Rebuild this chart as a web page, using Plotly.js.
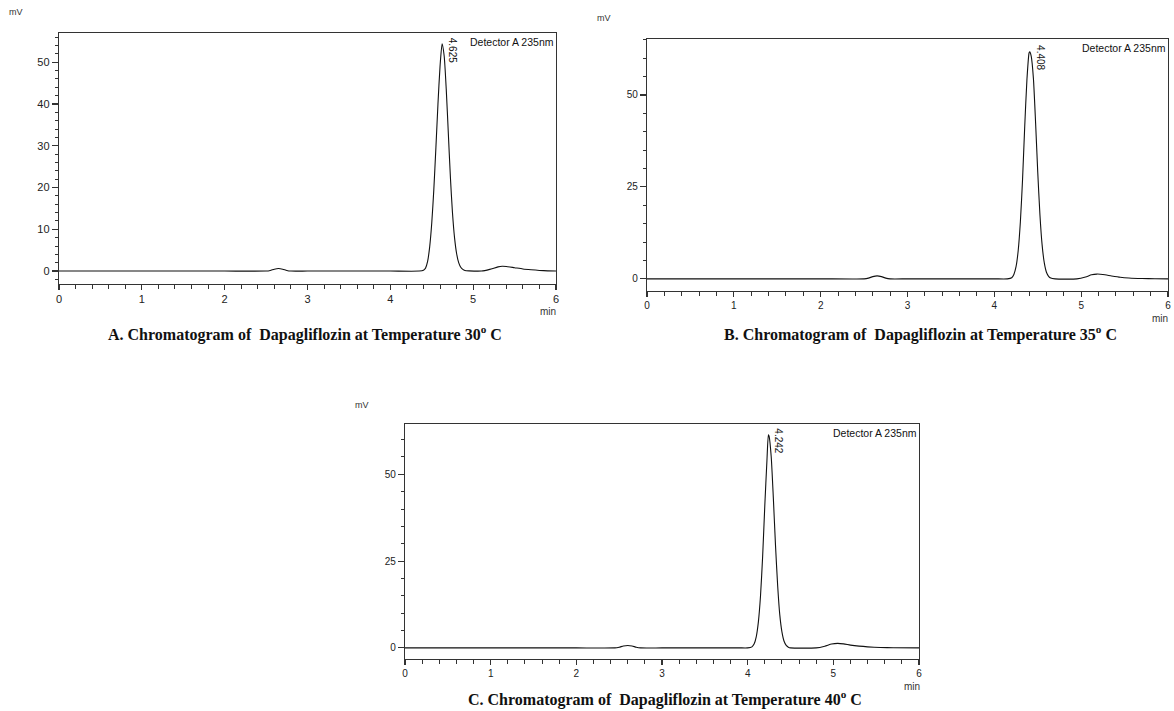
<!DOCTYPE html>
<html>
<head>
<meta charset="utf-8">
<script src="https://cdn.plot.ly/plotly-3.0.1.min.js"></script>
<style>html,body{margin:0;padding:0;background:#fff;}#chart{width:1174px;height:711px;}</style>
</head>
<body>
<div id="chart"></div>
<script>
// ---- Data (time in min, signal in mV) ----
const timeA = [0, 0.5, 1, 1.5, 2, 2.5, 2.55, 2.6, 2.65, 2.7, 2.75, 2.8, 3, 3.5, 4, 4.35, 4.4, 4.425, 4.45, 4.475, 4.5, 4.525, 4.55, 4.575, 4.6, 4.625, 4.65, 4.675, 4.7, 4.725, 4.75, 4.775, 4.8, 4.825, 4.85, 4.875, 4.9, 4.95, 5.1, 5.2, 5.3, 5.35, 5.4, 5.5, 5.6, 5.7, 5.8, 5.9, 6.0];
const signalA = [0, 0, 0, 0, 0, 0, 0.15, 0.45, 0.6, 0.45, 0.15, 0, 0, 0, 0, 0, 0.2, 0.7, 2.3, 5.8, 11.5, 19.5, 29.5, 40.0, 49.0, 54.4, 51.5, 43.5, 33.0, 22.5, 14.0, 8.0, 4.2, 2.0, 0.9, 0.4, 0.15, 0.05, 0, 0.4, 1.0, 1.15, 1.1, 0.8, 0.5, 0.3, 0.15, 0.05, 0];

const timeB = [0, 0.5, 1, 1.5, 2, 2.5, 2.55, 2.6, 2.65, 2.7, 2.75, 2.8, 3, 3.5, 4, 4.15, 4.2, 4.225, 4.25, 4.275, 4.3, 4.325, 4.35, 4.375, 4.4, 4.408, 4.425, 4.45, 4.475, 4.5, 4.525, 4.55, 4.575, 4.6, 4.625, 4.65, 4.7, 4.95, 5.05, 5.12, 5.18, 5.25, 5.35, 5.45, 5.55, 5.7, 5.85, 6.0];
const signalB = [0, 0, 0, 0, 0, 0, 0.2, 0.6, 0.8, 0.6, 0.2, 0, 0, 0, 0, 0, 0.3, 1.2, 3.3, 7.7, 15.5, 27.0, 41.5, 54.0, 61.4, 61.7, 60.5, 54.5, 42.5, 29.0, 17.5, 9.3, 4.4, 1.8, 0.7, 0.2, 0, 0, 0.5, 1.1, 1.3, 1.2, 0.8, 0.45, 0.25, 0.1, 0.03, 0];

const timeC = [0, 0.5, 1, 1.5, 2, 2.45, 2.5, 2.55, 2.6, 2.65, 2.7, 2.75, 3, 3.5, 3.9, 4.0, 4.05, 4.075, 4.1, 4.125, 4.15, 4.175, 4.2, 4.225, 4.242, 4.25, 4.275, 4.3, 4.325, 4.35, 4.375, 4.4, 4.425, 4.45, 4.475, 4.5, 4.8, 4.9, 4.98, 5.05, 5.12, 5.2, 5.3, 5.4, 5.55, 5.7, 6.0];
const signalC = [0, 0, 0, 0, 0, 0, 0.2, 0.55, 0.7, 0.55, 0.2, 0, 0, 0, 0, 0, 0.3, 1.1, 3.2, 7.5, 15.0, 26.5, 41.0, 54.0, 61.4, 61.0, 55.0, 43.0, 29.5, 18.0, 9.5, 4.6, 1.9, 0.7, 0.2, 0, 0, 0.5, 1.1, 1.3, 1.15, 0.8, 0.5, 0.3, 0.12, 0.03, 0];

const peakTimes = [4.625, 4.408, 4.242];
const peakHeights = [54.4, 61.7, 61.4];
const peakLabels = ['4.625', '4.408', '4.242'];
const panelTitles = [
  'A. Chromatogram of  Dapagliflozin at Temperature 30<sup>o</sup> C',
  'B. Chromatogram of  Dapagliflozin at Temperature 35<sup>o</sup> C',
  'C. Chromatogram of  Dapagliflozin at Temperature 40<sup>o</sup> C'
];
const detectorLabel = 'Detector A 235nm';
const yUnit = 'mV';
const xUnit = 'min';

// ---- Layout geometry (pixels) ----
const W = 1174, H = 711;
const boxes = [
  {l: 59, r: 556, t: 33, b: 284, yr: [-3.1, 57.0], dt: 10, mdt: 2},
  {l: 647, r: 1168, t: 39, b: 291, yr: [-3.3, 65.2], dt: 25, mdt: 5},
  {l: 405, r: 919, t: 424, b: 659, yr: [-3.2, 64.5], dt: 25, mdt: 5}
];
const px = x => x / W;
const py = y => 1 - y / H;

const times = [timeA, timeB, timeC];
const sigs = [signalA, signalB, signalC];

const data = [];
const layout = {
  width: W, height: H,
  margin: {l: 0, r: 0, t: 0, b: 0},
  paper_bgcolor: '#fff', plot_bgcolor: '#fff',
  showlegend: false,
  font: {family: 'Liberation Sans, Arial, sans-serif', color: '#222', size: 11},
  annotations: []
};

boxes.forEach((bx, i) => {
  const xa = i === 0 ? 'x' : 'x' + (i + 1);
  const ya = i === 0 ? 'y' : 'y' + (i + 1);
  const xk = i === 0 ? 'xaxis' : 'xaxis' + (i + 1);
  const yk = i === 0 ? 'yaxis' : 'yaxis' + (i + 1);
  data.push({
    x: times[i], y: sigs[i], xaxis: xa, yaxis: ya,
    type: 'scatter', mode: 'lines',
    line: {color: '#111', width: 1.1, shape: 'spline', smoothing: 0.6},
    hoverinfo: 'skip'
  });
  const fs = i === 0 ? 11 : 10;
  layout[xk] = {
    domain: [px(bx.l), px(bx.r)], anchor: ya,
    range: [0, 6], dtick: 1, tick0: 0,
    showgrid: false, zeroline: false,
    showline: true, mirror: true, linecolor: '#333', linewidth: 1.2,
    ticks: 'outside', ticklen: 5, tickcolor: '#333', tickwidth: 1.2,
    minor: {dtick: 0.2, ticks: 'outside', ticklen: 4, tickcolor: '#333', tickwidth: 1, showgrid: false},
    tickfont: {size: fs, color: '#222'},
    fixedrange: true
  };
  layout[yk] = {
    domain: [py(bx.b), py(bx.t)], anchor: xa,
    range: bx.yr, dtick: bx.dt, tick0: 0,
    showgrid: false, zeroline: false,
    showline: true, mirror: true, linecolor: '#333', linewidth: 1.2,
    ticks: 'outside', ticklen: 6, tickcolor: '#333', tickwidth: 1.2,
    minor: {dtick: bx.mdt, ticks: 'outside', ticklen: 3, tickcolor: '#333', tickwidth: 1, showgrid: false},
    tickfont: {size: fs, color: '#222'},
    ticklabelstandoff: 0,
    fixedrange: true
  };
  // peak label (rotated)
  layout.annotations.push({
    xref: xa, yref: ya, x: peakTimes[i], y: peakHeights[i],
    text: peakLabels[i], showarrow: false, textangle: 90,
    xshift: 10, yshift: -6,
    font: {size: 10, color: '#111', family: 'Liberation Sans, Arial, sans-serif'}
  });
  // detector label
  layout.annotations.push({
    xref: 'paper', yref: 'paper', x: px(bx.r), y: py(bx.t + 1),
    xanchor: 'right', yanchor: 'top', text: detectorLabel, showarrow: false,
    font: {size: 10.5, color: '#111', family: 'Liberation Sans, Arial, sans-serif'}
  });
});

// unit labels and panel titles
const mvPos = [[16, 12], [604, 18], [362, 405]];
const minPos = [[548, 311], [1160, 318], [912, 686]];
const titlePos = [[305, 333], [920, 333], [665, 698]];
mvPos.forEach(p => layout.annotations.push({
  xref: 'paper', yref: 'paper', x: px(p[0]), y: py(p[1]), xanchor: 'center', yanchor: 'middle',
  text: yUnit, showarrow: false, font: {size: 9, color: '#333'}
}));
minPos.forEach(p => layout.annotations.push({
  xref: 'paper', yref: 'paper', x: px(p[0]), y: py(p[1]), xanchor: 'center', yanchor: 'middle',
  text: xUnit, showarrow: false, font: {size: 10, color: '#333'}
}));
titlePos.forEach((p, i) => layout.annotations.push({
  xref: 'paper', yref: 'paper', x: px(p[0]), y: py(p[1]), xanchor: 'center', yanchor: 'middle',
  text: '<b>' + panelTitles[i] + '</b>', showarrow: false,
  font: {size: 16, color: '#111', family: 'Liberation Serif, Times New Roman, serif'}
}));

Plotly.newPlot('chart', data, layout, {displayModeBar: false, staticPlot: true});
</script>
</body>
</html>
